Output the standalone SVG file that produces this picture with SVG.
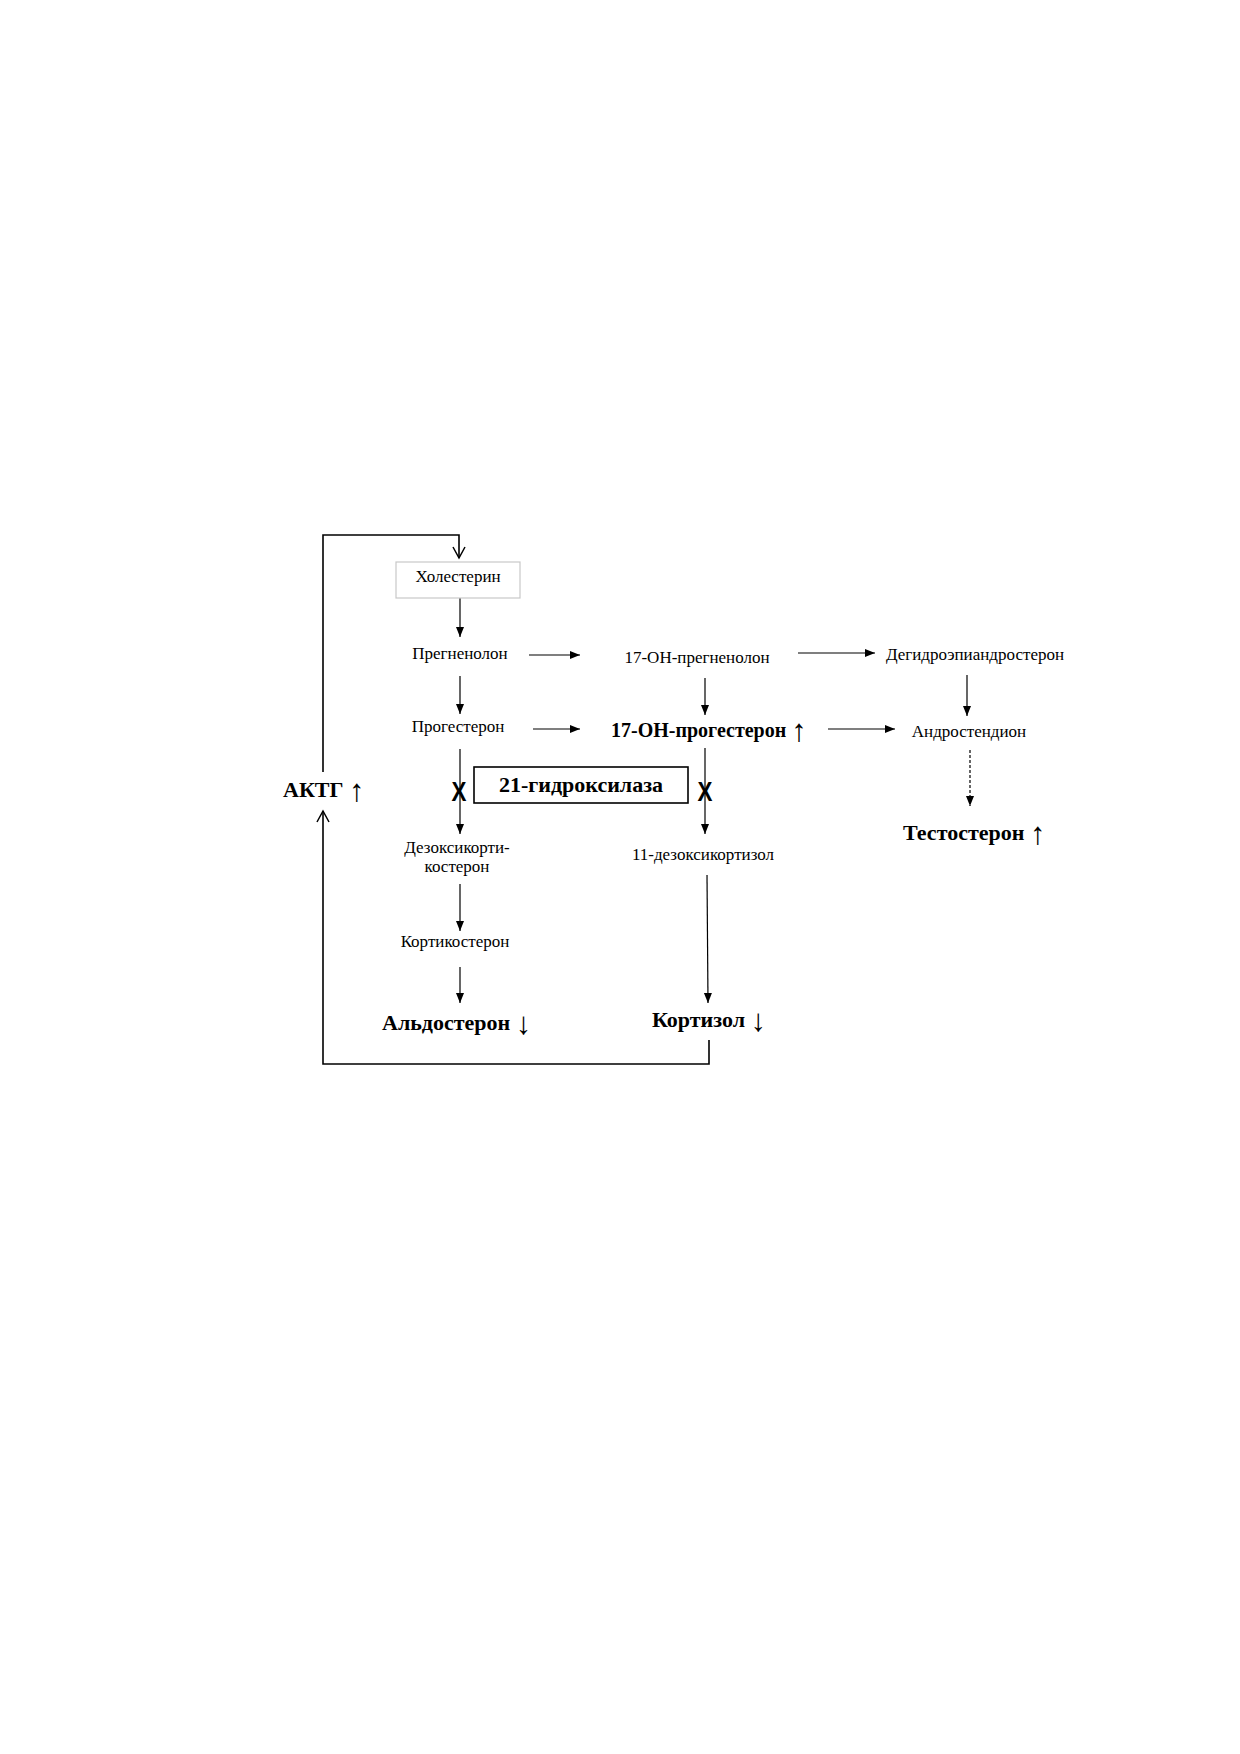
<svg xmlns="http://www.w3.org/2000/svg" width="1240" height="1754" viewBox="0 0 1240 1754">
<defs>
<style>
.t{font-family:"Liberation Serif","Times New Roman",serif;font-size:17px;fill:#000}
.b{font-family:"Liberation Serif","Times New Roman",serif;font-size:22px;font-weight:bold;fill:#000}
.ar{font-weight:normal;font-size:31px}
.x{font-family:"Liberation Sans",Arial,sans-serif;font-size:28px;font-weight:bold;fill:#000}
.c{stroke:#000;stroke-width:1.2;fill:none}
.fb{stroke:#000;stroke-width:1.6;fill:none}
</style>
<marker id="ah" markerUnits="userSpaceOnUse" markerWidth="10" markerHeight="10" refX="10" refY="5" orient="auto">
<path d="M0,1 L10,5 L0,9 z" fill="#000"/>
</marker>
<marker id="oh" markerUnits="userSpaceOnUse" markerWidth="14" markerHeight="14" refX="12" refY="7" orient="auto">
<path d="M1,1 L12,7 L1,13" fill="none" stroke="#000" stroke-width="1.5"/>
</marker>
</defs>
<rect width="1240" height="1754" fill="#fff"/>
<g id="connectors">
<path class="fb" d="M323,772 V535 H459 V558" marker-end="url(#oh)"/>
<path class="fb" d="M709,1040 V1064 H323 V811" marker-end="url(#oh)"/>
<line class="c" x1="460" y1="598" x2="460" y2="637" marker-end="url(#ah)"/>
<line class="c" x1="460" y1="676" x2="460" y2="714" marker-end="url(#ah)"/>
<line class="c" x1="460" y1="749" x2="460" y2="834" marker-end="url(#ah)"/>
<line class="c" x1="460" y1="884" x2="460" y2="931" marker-end="url(#ah)"/>
<line class="c" x1="460" y1="967" x2="460" y2="1003" marker-end="url(#ah)"/>
<line class="c" x1="529" y1="655" x2="580" y2="655" marker-end="url(#ah)"/>
<line class="c" x1="533" y1="729" x2="580" y2="729" marker-end="url(#ah)"/>
<line class="c" x1="705" y1="678" x2="705" y2="715" marker-end="url(#ah)"/>
<line class="c" x1="705" y1="748" x2="705" y2="834" marker-end="url(#ah)"/>
<line class="c" x1="707" y1="875" x2="708" y2="1003" marker-end="url(#ah)"/>
<line class="c" x1="798" y1="653" x2="875" y2="653" marker-end="url(#ah)"/>
<line class="c" x1="828" y1="729" x2="895" y2="729" marker-end="url(#ah)"/>
<line class="c" x1="967" y1="675" x2="967" y2="716" marker-end="url(#ah)"/>
<line class="c" x1="970" y1="750" x2="970" y2="806" stroke-dasharray="3,2" marker-end="url(#ah)"/>
</g>
<g id="cholesterol">
<rect x="396" y="562" width="124" height="36" fill="#fff" stroke="#c8c8c8" stroke-width="1.2"/>
<text class="t" x="458" y="582" text-anchor="middle">Холестерин</text>
</g>
<g id="pregnenolone"><text class="t" x="460" y="659" text-anchor="middle">Прегненолон</text></g>
<g id="oh-pregnenolone"><text class="t" x="697" y="663" text-anchor="middle">17-ОН-прегненолон</text></g>
<g id="dhea"><text class="t" x="975" y="660" text-anchor="middle">Дегидроэпиандростерон</text></g>
<g id="progesterone"><text class="t" x="458" y="732" text-anchor="middle">Прогестерон</text></g>
<g id="oh-progesterone"><text class="b" x="611" y="737" style="font-size:20px">17-ОН-прогестерон <tspan class="ar" dy="4">↑</tspan></text></g>
<g id="androstenedione"><text class="t" x="969" y="737" text-anchor="middle">Андростендион</text></g>
<g id="testosterone"><text class="b" x="903" y="840">Тестостерон <tspan class="ar" dy="4">↑</tspan></text></g>
<g id="acth"><text class="b" x="283" y="797">АКТГ <tspan class="ar" dy="4">↑</tspan></text></g>
<g id="hydroxylase">
<rect x="474" y="767" width="214" height="36" fill="#fff" stroke="#000" stroke-width="1.6"/>
<text class="b" x="581" y="792" text-anchor="middle">21-гидроксилаза</text>
</g>
<g id="block-left"><text class="x" transform="translate(459,801) scale(0.8,1)" x="0" y="0" text-anchor="middle">X</text></g>
<g id="block-right"><text class="x" transform="translate(705,801) scale(0.8,1)" x="0" y="0" text-anchor="middle">X</text></g>
<g id="deoxycorticosterone">
<text class="t" x="457" y="853" text-anchor="middle">Дезоксикорти-</text>
<text class="t" x="457" y="872" text-anchor="middle">костерон</text>
</g>
<g id="deoxycortisol"><text class="t" x="703" y="860" text-anchor="middle">11-дезоксикортизол</text></g>
<g id="corticosterone"><text class="t" x="455" y="947" text-anchor="middle">Кортикостерон</text></g>
<g id="aldosterone"><text class="b" x="382" y="1030">Альдостерон <tspan class="ar" dy="4">↓</tspan></text></g>
<g id="cortisol"><text class="b" x="652" y="1027">Кортизол <tspan class="ar" dy="4">↓</tspan></text></g>
</svg>
